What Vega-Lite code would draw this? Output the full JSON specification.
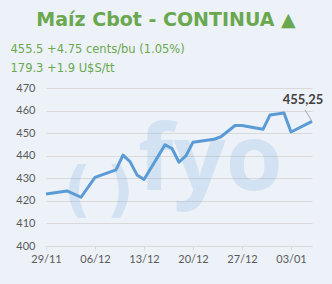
{
  "$schema": "https://vega.github.io/schema/vega-lite/v6.json",
  "width": 266,
  "height": 158,
  "autosize": {"type": "none"},
  "padding": {"left": 46, "top": 88, "right": 20, "bottom": 38},
  "background": "#edf2f9",
  "title": {
    "text": "Maíz Cbot - CONTINUA ▲",
    "font": "DejaVu Sans",
    "fontSize": 19,
    "fontWeight": "bold",
    "color": "#6aa84f",
    "anchor": "middle",
    "frame": "group",
    "dx": -13,
    "offset": 13
  },
  "config": {
    "view": {"stroke": null},
    "axis": {
      "labelFont": "Lato",
      "labelFontSize": 11,
      "labelColor": "#595959",
      "gridColor": "#d9d9d9",
      "domainColor": "#d9d9d9",
      "tickColor": "#d9d9d9",
      "labelOverlap": false,
      "labelFlush": false
    }
  },
  "datasets": {
    "one": [{}]
  },
  "data": {
    "values": [
      {"date": "2024-11-29T00:00:00", "value": 423.0},
      {"date": "2024-12-02T00:00:00", "value": 424.4},
      {"date": "2024-12-04T00:00:00", "value": 421.6},
      {"date": "2024-12-06T00:00:00", "value": 430.4},
      {"date": "2024-12-09T00:00:00", "value": 433.7},
      {"date": "2024-12-10T00:00:00", "value": 440.3},
      {"date": "2024-12-11T00:00:00", "value": 437.4},
      {"date": "2024-12-12T00:00:00", "value": 431.5},
      {"date": "2024-12-13T00:00:00", "value": 429.5},
      {"date": "2024-12-16T00:00:00", "value": 444.8},
      {"date": "2024-12-17T00:00:00", "value": 443.2},
      {"date": "2024-12-18T00:00:00", "value": 437.1},
      {"date": "2024-12-19T00:00:00", "value": 440.0},
      {"date": "2024-12-20T00:00:00", "value": 446.0},
      {"date": "2024-12-23T00:00:00", "value": 447.3},
      {"date": "2024-12-24T00:00:00", "value": 448.4},
      {"date": "2024-12-26T00:00:00", "value": 453.4},
      {"date": "2024-12-27T00:00:00", "value": 453.4},
      {"date": "2024-12-30T00:00:00", "value": 451.7},
      {"date": "2024-12-31T00:00:00", "value": 458.0},
      {"date": "2025-01-02T00:00:00", "value": 458.9},
      {"date": "2025-01-03T00:00:00", "value": 450.5},
      {"date": "2025-01-06T00:00:00", "value": 455.25}
    ]
  },
  "layer": [
    {
      "data": {"name": "one"},
      "mark": {"type": "text", "text": "(", "font": "DejaVu Sans", "fontSize": 60, "fontWeight": "bold", "color": "#5b9bd5", "opacity": 0.18, "align": "center", "baseline": "middle"},
      "encoding": {
        "x": {
          "datum": {"year": 2024, "month": 12, "date": 3, "hours": 12},
          "type": "temporal",
          "scale": {"domain": [{"year": 2024, "month": 11, "date": 29}, {"year": 2025, "month": 1, "date": 6}]},
          "axis": {
            "title": null,
            "format": "%d/%m",
            "values": [
              {"year": 2024, "month": 11, "date": 29},
              {"year": 2024, "month": 12, "date": 6},
              {"year": 2024, "month": 12, "date": 13},
              {"year": 2024, "month": 12, "date": 20},
              {"year": 2024, "month": 12, "date": 27},
              {"year": 2025, "month": 1, "date": 3}
            ],
            "grid": false,
            "tickSize": 4,
            "labelPadding": 3
          }
        },
        "y": {
          "datum": 424,
          "type": "quantitative",
          "scale": {"domain": [400, 470], "zero": false, "nice": false},
          "axis": {
            "values": [400, 410, 420, 430, 440, 450, 460, 470],
            "tickCount": 8,
            "grid": true,
            "domain": false,
            "ticks": false,
            "labelPadding": 11,
            "title": ["455.5 +4.75 cents/bu (1.05%)", "179.3 +1.9 U$S/tt"],
            "titleAngle": 0,
            "titleAlign": "left",
            "titleBaseline": "top",
            "titleX": -36,
            "titleY": -45,
            "titleFont": "DejaVu Sans",
            "titleFontSize": 11.5,
            "titleFontWeight": "normal",
            "titleColor": "#6aa84f",
            "titleLineHeight": 19
          }
        }
      }
    },
    {
      "data": {"name": "one"},
      "mark": {"type": "text", "text": ")", "font": "DejaVu Sans", "fontSize": 60, "fontWeight": "bold", "color": "#5b9bd5", "opacity": 0.18, "align": "center", "baseline": "middle"},
      "encoding": {
        "x": {"datum": {"year": 2024, "month": 12, "date": 9, "hours": 14}, "type": "temporal"},
        "y": {"datum": 424, "type": "quantitative"}
      }
    },
    {
      "data": {"name": "one"},
      "mark": {"type": "text", "text": "fyo", "font": "Open Sans", "fontSize": 92, "fontWeight": "bold", "color": "#5b9bd5", "opacity": 0.18, "align": "left", "baseline": "alphabetic"},
      "encoding": {
        "x": {"datum": {"year": 2024, "month": 12, "date": 12, "hours": 3}, "type": "temporal"},
        "y": {"datum": 424.8, "type": "quantitative"}
      }
    },
    {
      "mark": {"type": "line", "color": "#5b9bd5", "strokeWidth": 3, "strokeJoin": "round"},
      "encoding": {
        "x": {"field": "date", "type": "temporal"},
        "y": {"field": "value", "type": "quantitative"}
      }
    },
    {
      "data": {"name": "one"},
      "mark": {"type": "rule", "color": "#a6a6a6", "strokeWidth": 1},
      "encoding": {
        "x": {"datum": {"year": 2025, "month": 1, "date": 5}, "type": "temporal"},
        "y": {"datum": 460.3, "type": "quantitative"},
        "x2": {"datum": {"year": 2025, "month": 1, "date": 6}},
        "y2": {"datum": 455.25}
      }
    },
    {
      "data": {"name": "one"},
      "mark": {"type": "text", "text": "455,25", "font": "Lato", "fontSize": 13, "fontWeight": "bold", "color": "#404040", "align": "center", "baseline": "alphabetic", "dx": -9, "dy": -17},
      "encoding": {
        "x": {"datum": {"year": 2025, "month": 1, "date": 6}, "type": "temporal"},
        "y": {"datum": 455.25, "type": "quantitative"}
      }
    }
  ]
}
